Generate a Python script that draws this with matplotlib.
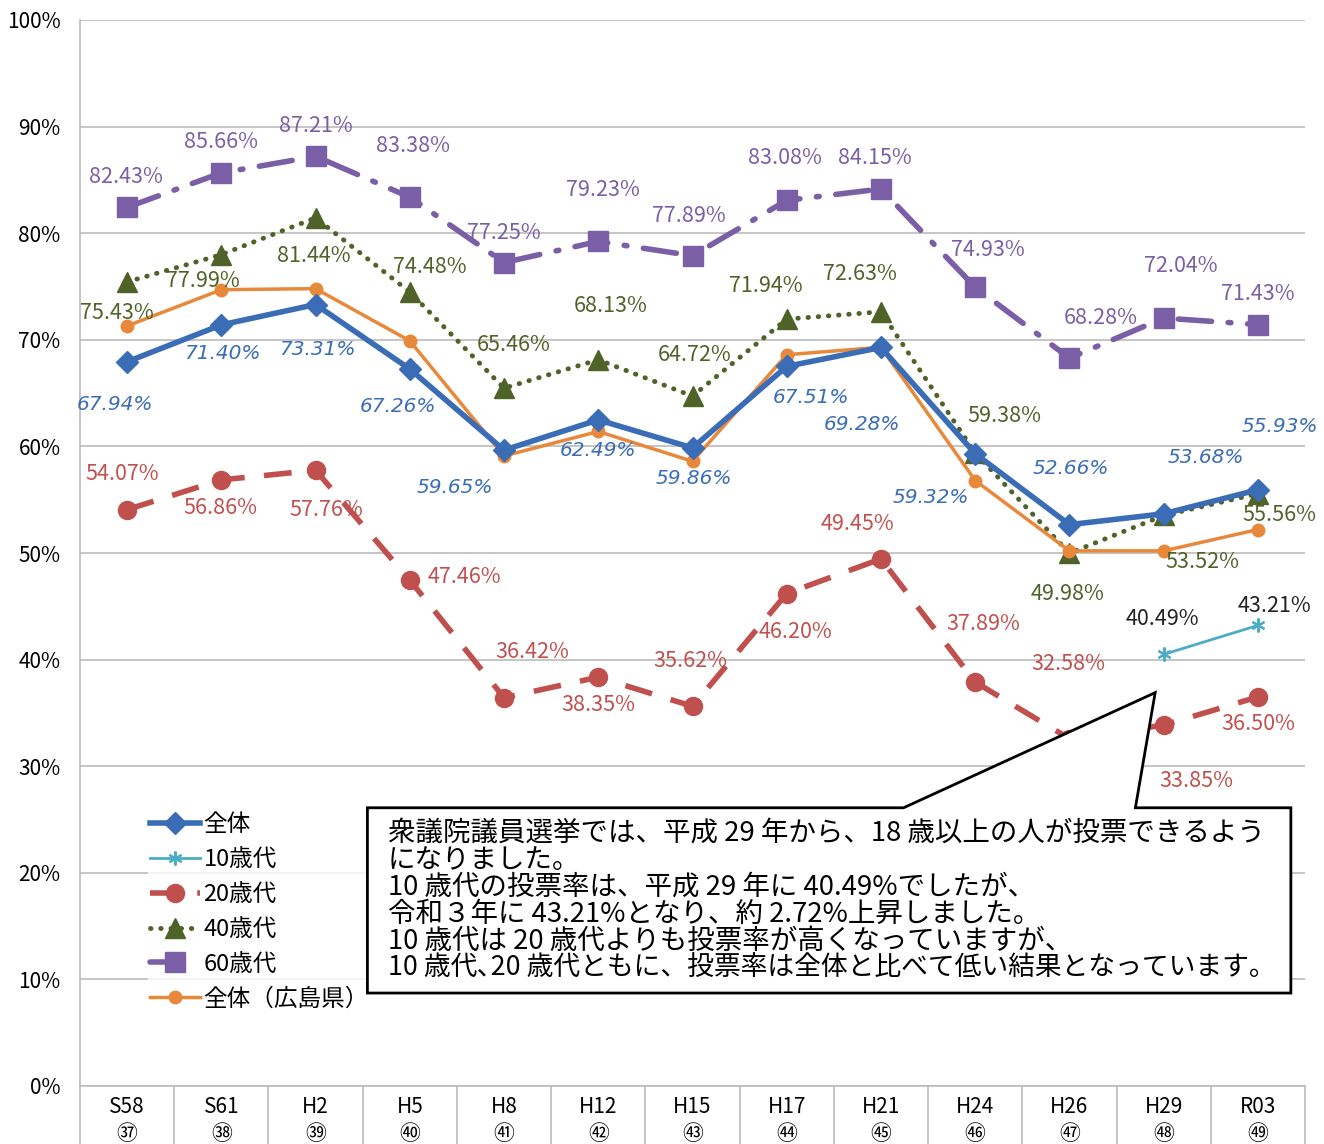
import numpy as np
import matplotlib
matplotlib.use("Agg")
import matplotlib.pyplot as plt
from matplotlib.patches import Polygon

plt.rcParams['font.family'] = ['Noto Sans CJK JP', 'DejaVu Sans']

categories = ["S58", "S61", "H2", "H5", "H8", "H12", "H15", "H17", "H21", "H24", "H26", "H29", "R03"]
circled = ["㊲", "㊳", "㊴", "㊵", "㊶", "㊷", "㊸", "㊹", "㊺", "㊻", "㊼", "㊽", "㊾"]

zentai = [67.94, 71.40, 73.31, 67.26, 59.65, 62.49, 59.86, 67.51, 69.28, 59.32, 52.66, 53.68, 55.93]
teen = [np.nan] * 11 + [40.49, 43.21]
twenties = [54.07, 56.86, 57.76, 47.46, 36.42, 38.35, 35.62, 46.20, 49.45, 37.89, 32.58, 33.85, 36.50]
forties = [75.43, 77.99, 81.44, 74.48, 65.46, 68.13, 64.72, 71.94, 72.63, 59.38, 49.98, 53.52, 55.56]
sixties = [82.43, 85.66, 87.21, 83.38, 77.25, 79.23, 77.89, 83.08, 84.15, 74.93, 68.28, 72.04, 71.43]
hiroshima = [71.3, 74.7, 74.8, 69.9, 59.1, 61.4, 58.6, 68.6, 69.3, 56.8, 50.2, 50.2, 52.2]

series_names = ["全体", "10歳代", "20歳代", "40歳代", "60歳代", "全体（広島県）"]

note_lines = [
    "衆議院議員選挙では、平成 29 年から、18 歳以上の人が投票できるよう",
    "になりました。",
    "10 歳代の投票率は、平成 29 年に 40.49%でしたが、",
    "令和３年に 43.21%となり、約 2.72%上昇しました。",
    "10 歳代は 20 歳代よりも投票率が高くなっていますが、",
    "10 歳代､20 歳代ともに、投票率は全体と比べて低い結果となっています。",
]

# label offsets (pixels) relative to each point
off_zentai = [(-12, -43), (1, -29), (2, -45), (-12, -37), (-49, -37), (0, -31), (1, -31),
              (24, -31), (-19, -77), (-44, -44), (1, 56), (42, 56), (22, 63)]
off_20 = [(-5, 36), (-1, -28), (11, -40), (55, 3), (28, 46), (0, -28), (-2, 45),
          (9, -38), (-23, 35), (8, 58), (-1, 75), (33, -56), (0, -27)]
off_40 = [(-10, -31), (-18, -26), (-2, -38), (20, 25), (10, 43), (12, 54), (2, 41),
          (-21, 33), (-21, 38), (29, 37), (-2, -41), (39, -47), (22, -21)]
off_60 = [(-1, 30), (0, 31), (0, 30), (3, 51), (0, 30), (5, 51), (-4, 40),
          (-2, 42), (-6, 31), (13, 37), (31, 40), (17, 52), (0, 31)]
off_teen = [None] * 11 + [(-1, 35), (17, 19)]

c_blue = "#3A6DB5"
c_teal = "#4BACC6"
c_red = "#C0504D"
c_green = "#4F6228"
c_purple = "#7B5FA6"
c_orange = "#E8883A"

W, H = 1324, 1144
fig = plt.figure(figsize=(W / 100, H / 100), dpi=100)
ax = fig.add_axes([80 / W, (H - 1086) / H, (1305 - 80) / W, (1086 - 20) / H])

x = np.arange(len(categories))

ax.plot(x, sixties, color=c_purple, lw=4, dashes=(6, 3, 0.5, 3), marker='s', ms=14,
        label=series_names[4], zorder=3, dash_capstyle='round')
ax.plot(x, forties, color=c_green, lw=3.5, linestyle=(0, (0.1, 2.0)), dash_capstyle='round',
        marker='^', ms=14, label=series_names[3], zorder=3)
ax.plot(x, twenties, color=c_red, lw=4, dashes=(5, 3.5), marker='o', ms=13,
        label=series_names[2], zorder=3)
ax.plot(x, hiroshima, color=c_orange, lw=2.5, marker='o', ms=9, label=series_names[5], zorder=4)
ax.plot(x, zentai, color=c_blue, lw=4, marker='D', ms=11, label=series_names[0], zorder=5)
ax.plot(x, teen, color=c_teal, lw=2, marker=(6, 2, 0), ms=10, mew=1.5,
        label=series_names[1], zorder=5)

fs = 15.5
for i, v in enumerate(zentai):
    ax.annotate(f"{v:.2f}%", (i, v), xytext=off_zentai[i], textcoords='offset pixels',
                ha='center', va='center', color=c_blue, fontsize=fs - 1,
                family='DejaVu Sans', style='italic', zorder=6)
for vals, offs, col in [(twenties, off_20, c_red), (forties, off_40, c_green),
                        (sixties, off_60, c_purple)]:
    for i, v in enumerate(vals):
        ax.annotate(f"{v:.2f}%", (i, v), xytext=offs[i], textcoords='offset pixels',
                    ha='center', va='center', color=col, fontsize=fs, zorder=6)
for i, v in enumerate(teen):
    if off_teen[i] is not None:
        ax.annotate(f"{v:.2f}%", (i, v), xytext=off_teen[i], textcoords='offset pixels',
                    ha='center', va='center', color='#222222', fontsize=fs, zorder=6)

ax.set_xlim(-0.5, len(categories) - 0.5)
ax.set_ylim(0, 100)
ax.set_yticks(np.arange(0, 101, 10))
ax.set_yticklabels([f"{t}%" for t in range(0, 101, 10)], fontsize=15)
ax.yaxis.grid(True, color='#BBBBBB', lw=1.2)
ax.set_axisbelow(True)
ax.tick_params(axis='y', length=0, pad=14)

ax.set_xticks(x)
ax.set_xticklabels([f"{c}\n{n}" for c, n in zip(categories, circled)], fontsize=15,
                   linespacing=1.3)
ax.set_xticks(np.arange(-0.5, len(categories), 1), minor=True)
ax.tick_params(axis='x', which='major', length=0, pad=7)
ax.tick_params(axis='x', which='minor', length=45, color='#BBBBBB', width=1.2)

for s in ['top', 'right']:
    ax.spines[s].set_visible(False)
ax.spines['left'].set_color('#BBBBBB')
ax.spines['bottom'].set_color('#BBBBBB')
ax.spines['left'].set_linewidth(1.2)
ax.spines['bottom'].set_linewidth(1.2)

# legend
handles, labels = ax.get_legend_handles_labels()
order = [labels.index(n) for n in series_names]
leg = ax.legend([handles[k] for k in order], [labels[k] for k in order],
                loc='upper left', bbox_to_anchor=(148 / W, 1 - 811 / H),
                bbox_transform=fig.transFigure, frameon=True, fontsize=17,
                handlelength=2.1, handletextpad=0.15, labelspacing=0.5,
                borderpad=0.1, borderaxespad=0)
leg.get_frame().set_facecolor('white')
leg.get_frame().set_edgecolor('white')
leg.set_zorder(7)

# callout box (data coords)
xb0, xb1 = 2.55, 12.35
yb0, yb1 = 8.72, 26.1
poly = Polygon([(xb0, yb1), (8.24, yb1), (10.91, 36.9), (10.70, yb1), (xb1, yb1),
                (xb1, yb0), (xb0, yb0)], closed=True, facecolor='white',
               edgecolor='black', lw=2, zorder=8)
ax.add_patch(poly)
for k, line in enumerate(note_lines):
    fig.text(388 / W, 1 - (833 + 27 * k) / H, line,
             fontsize=19.8 if k < 5 else 19.3, ha='left',
             va='center', color='black', zorder=9)

fig.savefig("out.png", dpi=100)
